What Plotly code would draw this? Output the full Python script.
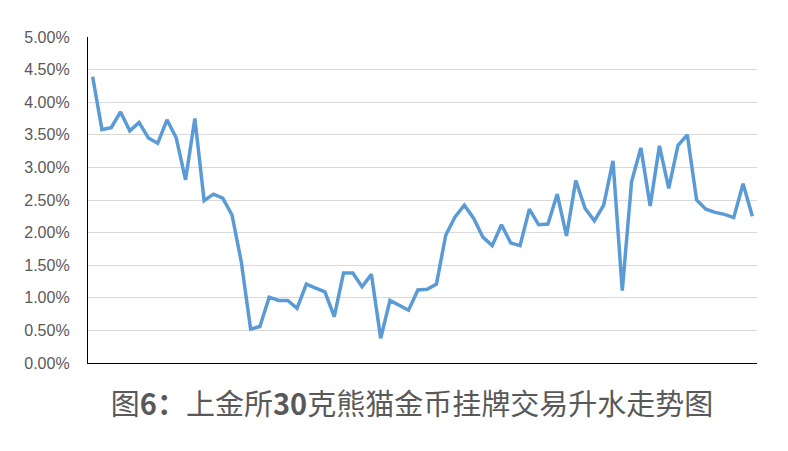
import plotly.graph_objects as go

# Premium (%) of SGE 30g Panda gold coin
premium = [4.39, 3.58, 3.61, 3.85, 3.56, 3.69, 3.45, 3.37, 3.73, 3.45,
           2.81, 3.75, 2.49, 2.59, 2.53, 2.27, 1.55, 0.52, 0.56, 1.01,
           0.96, 0.96, 0.84, 1.21, 1.15, 1.09, 0.71, 1.38, 1.38, 1.17,
           1.36, 0.38, 0.96, 0.88, 0.81, 1.12, 1.13, 1.21, 1.96, 2.24,
           2.42, 2.22, 1.93, 1.80, 2.12, 1.84, 1.80, 2.36, 2.12, 2.13,
           2.59, 1.95, 2.80, 2.37, 2.18, 2.42, 3.10, 1.11, 2.78, 3.30,
           2.41, 3.33, 2.68, 3.34, 3.50, 2.50, 2.36, 2.31, 2.28, 2.23,
           2.75, 2.25]
periods = list(range(len(premium)))
y_ticks = [0.0, 0.5, 1.0, 1.5, 2.0, 2.5, 3.0, 3.5, 4.0, 4.5, 5.0]
y_tick_labels = ["%.2f%%" % v for v in y_ticks]
title_text = "图<b>6：</b>上金所<b>30</b>克熊猫金币挂牌交易升水走势图"

# the page body adds an 8px offset, so the figure is sized to compensate
W, H = 780, 443

fig = go.Figure()
fig.add_trace(go.Scatter(
    x=periods, y=premium, mode="lines",
    line=dict(color="#5B9BD5", width=3.5, shape="linear"),
    hoverinfo="skip", showlegend=False,
))

fig.update_layout(
    width=W, height=H,
    margin=dict(l=80, r=31, t=29, b=88, autoexpand=False),
    paper_bgcolor="white", plot_bgcolor="white",
    font=dict(family="Liberation Sans, Arial, sans-serif", color="#595959"),
    title=dict(
        text=title_text,
        x=404 / W, xanchor="center",
        y=1 - 397 / H, yanchor="middle",
        font=dict(family="Noto Sans CJK SC", size=29, color="#595959"),
    ),
    xaxis=dict(
        range=[-0.5, len(premium) - 0.5],
        showgrid=False, zeroline=False,
        showticklabels=False, ticks="",
        showline=True, linecolor="black", linewidth=1.3,
        fixedrange=True,
    ),
    yaxis=dict(
        range=[0, 5.0],
        tickvals=y_ticks, ticktext=y_tick_labels,
        tickfont=dict(size=16, color="#595959"),
        ticks="", ticklabelstandoff=14,
        showgrid=True, gridcolor="#D9D9D9", gridwidth=1.2,
        zeroline=False,
        showline=True, linecolor="black", linewidth=1.3,
        fixedrange=True,
    ),
)

fig.write_html("out.html")
